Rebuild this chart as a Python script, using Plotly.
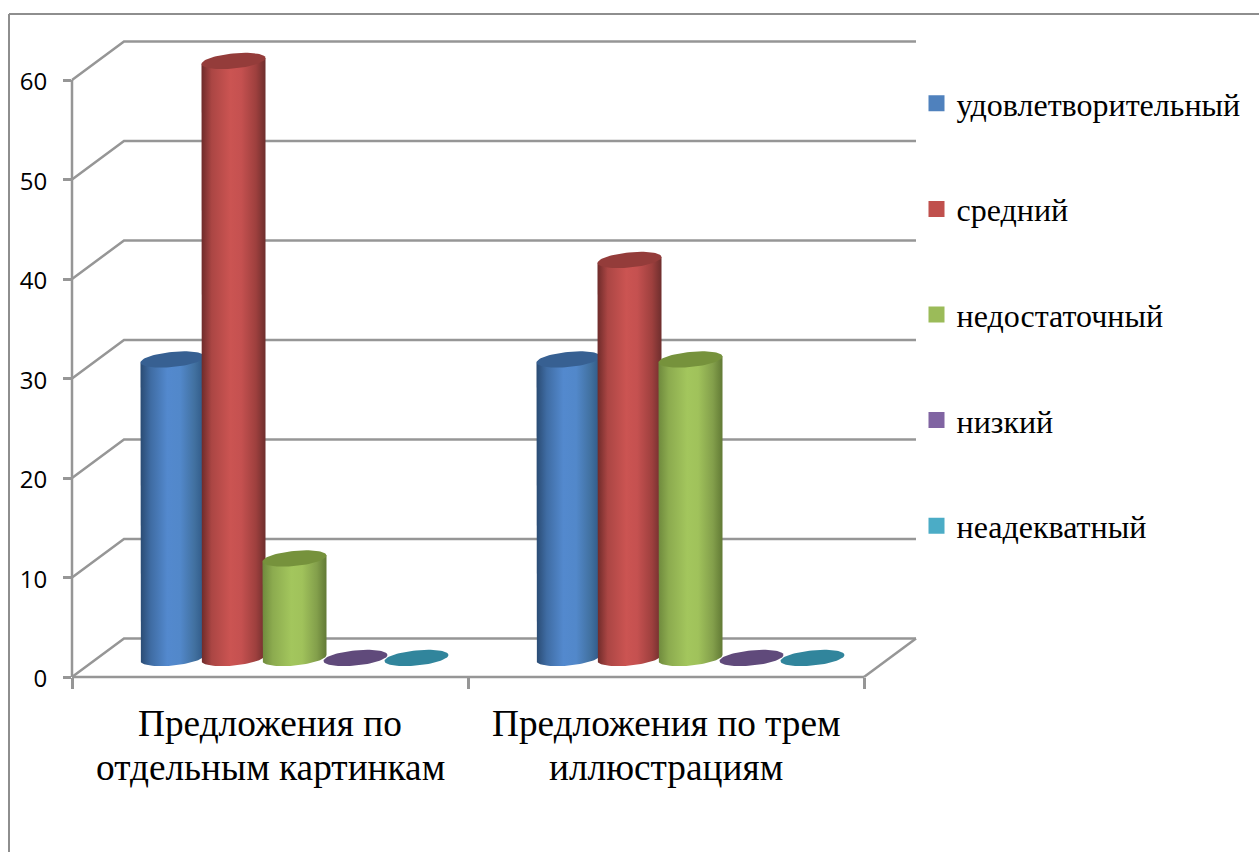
import numpy as np
import plotly.graph_objects as go

categories = ["Предложения по<br>отдельным картинкам", "Предложения по трем<br>иллюстрациям"]
series_names = ["удовлетворительный", "средний", "недостаточный", "низкий", "неадекватный"]
satisfactory = [30, 30]
medium = [60, 40]
insufficient = [10, 30]
low = [0, 0]
inadequate = [0, 0]
y_ticks = [0, 10, 20, 30, 40, 50, 60]

series_values = [satisfactory, medium, insufficient, low, inadequate]
legend_colors = ["#4F81BD", "#C0504D", "#9BBB59", "#8064A2", "#4BACC6"]
cap_colors = ["#376092", "#943C3A", "#76923C", "#604A7B", "#31859C"]
body_scales = [
    [[0, "#2A4B73"], [0.16, "#3F6CA3"], [0.42, "#5389CE"], [0.62, "#5288CA"], [0.85, "#41709F"], [1, "#2E5785"]],
    [[0, "#6E2B2A"], [0.16, "#AB4644"], [0.45, "#CB5452"], [0.62, "#C55150"], [0.85, "#9E403E"], [1, "#6E2E2D"]],
    [[0, "#6F8A3D"], [0.16, "#8CAB4F"], [0.45, "#A3C65D"], [0.62, "#A0C25B"], [0.85, "#839F4B"], [1, "#627A35"]],
]

# page geometry of the axis box (pixels)
W, H = 1259, 852
LEFT, RIGHT, TOP, BOTTOM = 72, 864, 80, 677
PX_X = (RIGHT - LEFT) / 2
PX_Y = (BOTTOM - TOP) / 60

# perspective of the back wall and cylinder proportions, in axis units
WALL_DX, WALL_DY = 52 / PX_X, 38.5 / PX_Y
FIRST_CENTER, STEP = 100.5 / PX_X, 61 / PX_X
BASE_LIFT = 19 / PX_Y
RX, RY, TILT = 32 / PX_X, 7.6 / PX_Y, 3 / PX_Y


def paper_x(px):
    return px / W


def paper_y(px):
    return 1 - px / H


def ellipse(cx, cy, t):
    return cx + RX * np.cos(t), cy + RY * np.sin(t) + TILT * np.cos(t)


fig = go.Figure()
GRID = "#969696"
LINE_W = 2.5
drawn = dict(xaxis="x2", yaxis="y2", showlegend=False, hoverinfo="skip")


def polyline(xs, ys):
    fig.add_trace(go.Scatter(x=xs, y=ys, mode="lines", line=dict(color=GRID, width=LINE_W), **drawn))


# floor and wall lines, one polyline per value tick
for v in y_ticks:
    polyline([0, WALL_DX, 2 + WALL_DX], [v, v + WALL_DY, v + WALL_DY])
polyline([2, 2 + WALL_DX], [0, WALL_DY])
polyline([0, 2], [0, 0])
polyline([0, 0], [0, 60])

# cylinders, drawn left to right so each one overlaps its neighbour
for c in range(len(categories)):
    for k, vals in enumerate(series_values):
        v = vals[c]
        cx = c + FIRST_CENTER + k * STEP
        base = BASE_LIFT
        top = BASE_LIFT + v
        if v > 0:
            t_low = np.linspace(np.pi, 2 * np.pi, 40)
            bx, by = ellipse(cx, base, t_low)
            tx_r, ty_r = ellipse(cx, top, 0.0)
            tx_l, ty_l = ellipse(cx, top, np.pi)
            fig.add_trace(go.Scatter(
                x=[tx_l] + list(bx) + [tx_r, tx_l],
                y=[ty_l] + list(by) + [ty_r, ty_l],
                mode="lines", line=dict(width=0), fill="toself",
                fillgradient=dict(type="horizontal", colorscale=body_scales[k]),
                **drawn,
            ))
        t_all = np.linspace(0, 2 * np.pi, 80)
        ex, ey = ellipse(cx, top, t_all)
        fig.add_trace(go.Scatter(
            x=ex, y=ey, mode="lines", line=dict(width=0), fill="toself",
            fillcolor=cap_colors[k], **drawn,
        ))

# legend entries
for k, name in enumerate(series_names):
    fig.add_trace(go.Scatter(
        x=[None], y=[None], mode="markers", name=name, legendgroup=name,
        marker=dict(symbol="square", size=16, color=legend_colors[k]),
    ))

# category labels, one annotation per text line to hold the line pitch
for c, label in enumerate(categories):
    for n, part in enumerate(label.split("<br>")):
        fig.add_annotation(
            x=c + 0.5, xref="x", y=paper_y(723 + 44 * n), yref="paper", yanchor="middle", xanchor="center",
            text=part, showarrow=False,
            font=dict(family="Liberation Serif", size=37.3, color="#000000"),
        )

frame = dict(color="#8E8E8E", width=2)
fig.add_shape(type="line", xref="paper", yref="paper", x0=paper_x(9), x1=paper_x(9),
              y0=paper_y(14), y1=paper_y(H), line=frame)
fig.add_shape(type="line", xref="paper", yref="paper", x0=paper_x(9), x1=paper_x(W),
              y0=paper_y(14), y1=paper_y(14), line=frame)

fig.update_layout(
    width=W, height=H, autosize=False,
    margin=dict(l=0, r=0, t=0, b=0, autoexpand=False),
    paper_bgcolor="#FFFFFF", plot_bgcolor="rgba(0,0,0,0)",
    showlegend=True,
    legend=dict(
        x=paper_x(916.5), y=paper_y(76), xanchor="left", yanchor="top",
        font=dict(family="Liberation Serif", size=32, color="#000000"),
        tracegroupgap=61, itemsizing="trace", bgcolor="rgba(0,0,0,0)",
        traceorder="grouped",
    ),
    # visible axes: value and category scale with their ticks
    xaxis=dict(
        domain=[LEFT / W, RIGHT / W], range=[0, 2], tickvals=[0, 1, 2], ticktext=["", "", ""],
        showgrid=False, zeroline=False, showline=False,
        ticks="outside", ticklen=11, tickwidth=LINE_W, tickcolor=GRID,
    ),
    yaxis=dict(
        domain=[1 - BOTTOM / H, 1 - TOP / H], range=[0, 60], tickvals=y_ticks,
        showgrid=False, zeroline=False, showline=False,
        ticks="outside", ticklen=8, tickwidth=LINE_W, tickcolor=GRID,
        ticklabelstandoff=11, ticklabelshift=2,
        tickfont=dict(family="Open Sans", size=24, color="#000000"),
    ),
    # same units stretched over the whole page, so the perspective wall is not cut off
    xaxis2=dict(
        domain=[0, 1], anchor="y2", visible=False,
        range=[-LEFT / PX_X, (W - LEFT) / PX_X],
    ),
    yaxis2=dict(
        domain=[0, 1], anchor="x2", visible=False,
        range=[-(H - BOTTOM) / PX_Y, BOTTOM / PX_Y],
    ),
)

fig.write_html("out.html")
